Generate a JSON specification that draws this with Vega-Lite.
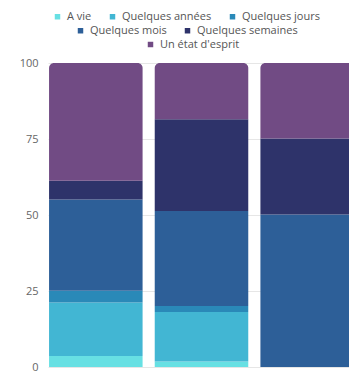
{
  "$schema": "https://vega.github.io/schema/vega-lite/v6.json",
  "autosize": {"type": "none"},
  "padding": {"left": 48, "top": 63, "right": 0, "bottom": 8},
  "width": 307,
  "height": 304,
  "background": "white",
  "config": {
    "font": "Open Sans",
    "view": {"stroke": null},
    "axis": {"labelFont": "Open Sans", "labelColor": "#666666", "labelFontSize": 11},
    "legend": {
      "title": null,
      "direction": "horizontal",
      "symbolType": "square",
      "symbolSize": 30,
      "symbolOffset": 0,
      "labelFont": "Open Sans",
      "labelFontSize": 11,
      "labelColor": "#555555",
      "labelOffset": 4,
      "columnPadding": 15,
      "padding": 0
    }
  },
  "data": {
    "values": [
      {"groupe": "1", "duree": "A vie", "part": 3.6},
      {"groupe": "1", "duree": "Quelques années", "part": 17.6},
      {"groupe": "1", "duree": "Quelques jours", "part": 3.9},
      {"groupe": "1", "duree": "Quelques mois", "part": 30.0},
      {"groupe": "1", "duree": "Quelques semaines", "part": 6.2},
      {"groupe": "1", "duree": "Un état d'esprit", "part": 38.7},
      {"groupe": "2", "duree": "A vie", "part": 1.8},
      {"groupe": "2", "duree": "Quelques années", "part": 16.3},
      {"groupe": "2", "duree": "Quelques jours", "part": 2.0},
      {"groupe": "2", "duree": "Quelques mois", "part": 31.2},
      {"groupe": "2", "duree": "Quelques semaines", "part": 30.2},
      {"groupe": "2", "duree": "Un état d'esprit", "part": 18.5},
      {"groupe": "3", "duree": "Quelques mois", "part": 50.2},
      {"groupe": "3", "duree": "Quelques semaines", "part": 25.0},
      {"groupe": "3", "duree": "Un état d'esprit", "part": 24.8}
    ]
  },
  "transform": [
    {
      "stack": "part",
      "groupby": ["groupe"],
      "sort": [{"field": "duree", "order": "ascending"}],
      "as": ["y0", "y1"]
    }
  ],
  "encoding": {
    "x": {
      "field": "groupe",
      "type": "nominal",
      "scale": {"paddingInner": 0.115, "paddingOuter": 0.01},
      "axis": null
    },
    "y": {
      "field": "y0",
      "type": "quantitative",
      "scale": {"domain": [0, 100], "nice": false},
      "axis": {
        "title": null,
        "values": [0, 25, 50, 75, 100],
        "domain": false,
        "ticks": false,
        "labelPadding": 10,
        "gridColor": "#e6e6e6"
      }
    },
    "y2": {"field": "y1"}
  },
  "layer": [
    {
      "transform": [{"filter": {"field": "duree", "oneOf": ["A vie", "Quelques années", "Quelques jours"]}}],
      "mark": {"type": "bar"},
      "encoding": {
        "color": {
          "field": "duree",
          "type": "nominal",
          "scale": {
            "domain": ["A vie", "Quelques années", "Quelques jours"],
            "range": ["#67e0e3", "#42b6d3", "#2a89b8"]
          },
          "legend": {"orient": "none", "legendX": 4, "legendY": -52, "columns": 3}
        }
      }
    },
    {
      "transform": [{"filter": {"field": "duree", "oneOf": ["Quelques mois", "Quelques semaines"]}}],
      "mark": {"type": "bar"},
      "encoding": {
        "color": {
          "field": "duree",
          "type": "nominal",
          "scale": {
            "domain": ["Quelques mois", "Quelques semaines"],
            "range": ["#2d5f98", "#2e336a"]
          },
          "legend": {"orient": "none", "legendX": 27, "legendY": -38, "columns": 2}
        }
      }
    },
    {
      "transform": [{"filter": {"field": "duree", "equal": "Un état d'esprit"}}],
      "mark": {"type": "bar", "cornerRadiusTopLeft": 5, "cornerRadiusTopRight": 5},
      "encoding": {
        "color": {
          "field": "duree",
          "type": "nominal",
          "scale": {
            "domain": ["Un état d'esprit"],
            "range": ["#714b84"]
          },
          "legend": {"orient": "none", "legendX": 97, "legendY": -24, "columns": 1}
        }
      }
    }
  ],
  "resolve": {"scale": {"color": "independent"}, "legend": {"color": "independent"}}
}
